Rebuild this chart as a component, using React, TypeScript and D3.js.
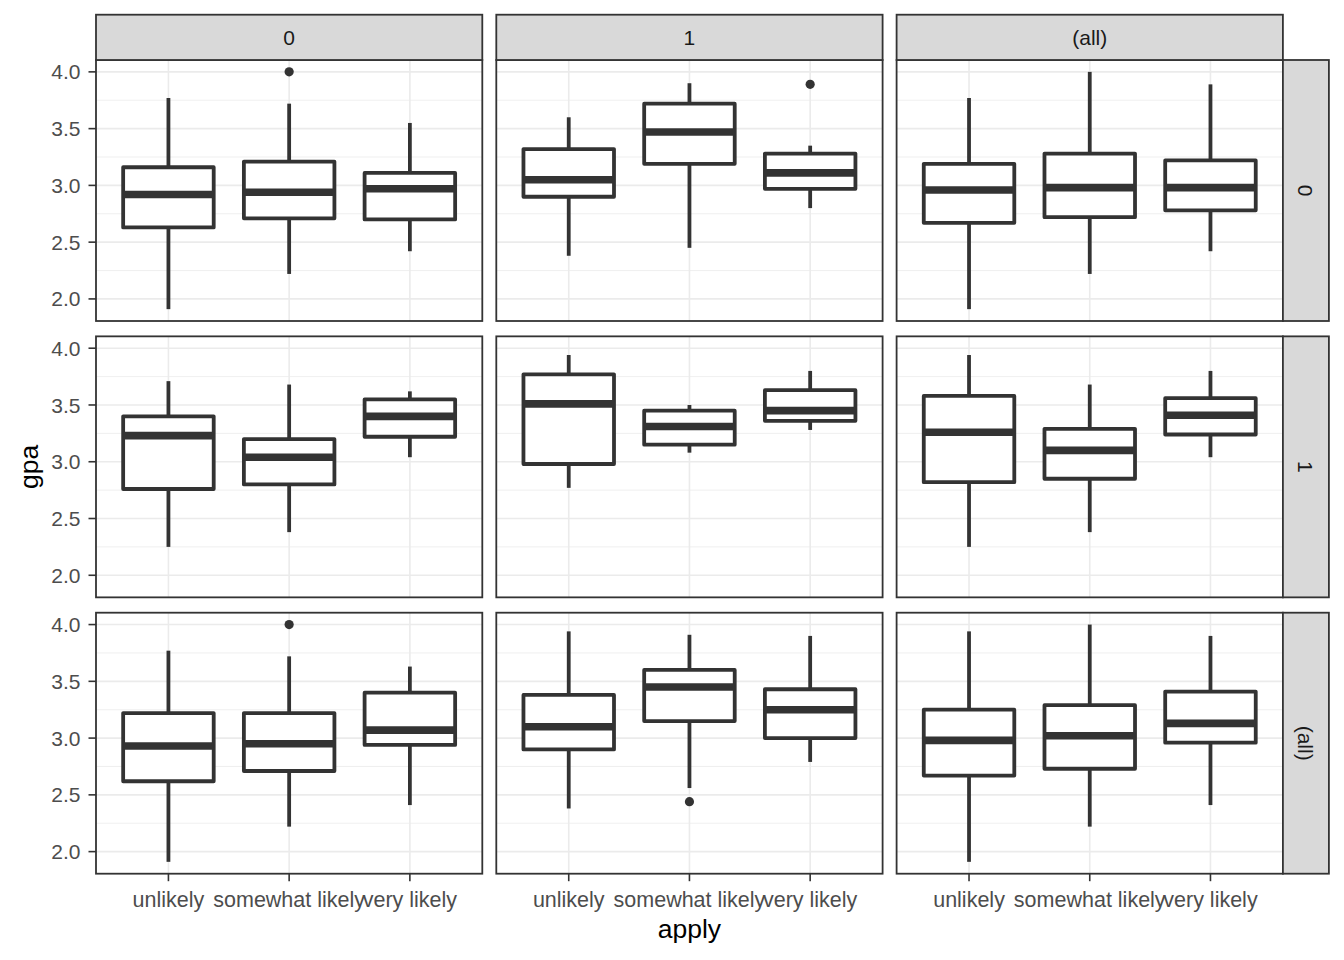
import * as d3 from 'd3';

const categories = ['unlikely', 'somewhat likely', 'very likely'];
const colLabels = ['0', '1', '(all)'];
const rowLabels = ['0', '1', '(all)'];
const yTicks = [2.0, 2.5, 3.0, 3.5, 4.0];
const yMinor = [2.25, 2.75, 3.25, 3.75];

// one entry per panel, row-major (rows = right strip, cols = top strip), 3 categories each
const whiskerLow = [
  [1.91, 2.22, 2.42], [2.38, 2.45, 2.8], [1.91, 2.22, 2.42],
  [2.25, 2.38, 3.04], [2.77, 3.08, 3.28], [2.25, 2.38, 3.04],
  [1.91, 2.22, 2.41], [2.38, 2.56, 2.79], [1.91, 2.22, 2.41],
];
const q1 = [
  [2.63, 2.71, 2.7], [2.9, 3.19, 2.97], [2.67, 2.72, 2.78],
  [2.76, 2.8, 3.22], [2.98, 3.15, 3.36], [2.82, 2.85, 3.24],
  [2.62, 2.71, 2.94], [2.9, 3.15, 3.0], [2.67, 2.73, 2.96],
];
const median = [
  [2.92, 2.94, 2.97], [3.05, 3.47, 3.11], [2.96, 2.98, 2.98],
  [3.23, 3.04, 3.4], [3.51, 3.31, 3.45], [3.26, 3.1, 3.41],
  [2.93, 2.95, 3.07], [3.1, 3.45, 3.25], [2.98, 3.02, 3.13],
];
const q3 = [
  [3.16, 3.21, 3.11], [3.32, 3.72, 3.28], [3.19, 3.28, 3.22],
  [3.4, 3.2, 3.55], [3.77, 3.45, 3.63], [3.58, 3.29, 3.56],
  [3.22, 3.22, 3.4], [3.38, 3.6, 3.43], [3.25, 3.29, 3.41],
];
const whiskerHigh = [
  [3.77, 3.72, 3.55], [3.6, 3.9, 3.35], [3.77, 4.0, 3.89],
  [3.71, 3.68, 3.62], [3.94, 3.5, 3.8], [3.94, 3.68, 3.8],
  [3.77, 3.72, 3.63], [3.94, 3.91, 3.9], [3.94, 4.0, 3.9],
];
// [panel, category, value]
const outliers: [number, number, number][] = [
  [0, 1, 4.0], [1, 2, 3.89], [6, 1, 4.0], [7, 1, 2.44],
];

const W = 1344;
const H = 960;
const left = 96;
const top = 60;
const panelW = 386.3;
const panelH = 261;
const stepX = 400.3;
const stepY = 276.35;
const stripH = 45.3;
const stripW = 46;
const font = '"Liberation Sans", Arial, Helvetica, sans-serif';
const dark = '#333333';
const boxStroke = 3.8;

export default function App() {
  const allVals = [...whiskerLow.flat(), ...whiskerHigh.flat(), ...outliers.map((o) => o[2])];
  const [lo, hi] = d3.extent(allVals) as [number, number];
  const pad = (hi - lo) * 0.05;
  const y = d3.scaleLinear().domain([lo - pad, hi + pad]).range([panelH, 0]);
  const x = d3.scalePoint<string>().domain(categories).range([0, panelW]).padding(0.6);
  const boxW = x.step() * 0.75;

  const panels = [];
  for (let r = 0; r < 3; r++) {
    for (let c = 0; c < 3; c++) {
      const p = r * 3 + c;
      const px = left + c * stepX;
      const py = top + r * stepY;
      panels.push(
        <g key={`p${p}`} transform={`translate(${px},${py})`}>
          <rect width={panelW} height={panelH} fill="white" />
          {yMinor.map((t) => (
            <line key={`mi${t}`} x1={0} x2={panelW} y1={y(t)} y2={y(t)} stroke="#ebebeb" strokeWidth={0.8} />
          ))}
          {yTicks.map((t) => (
            <line key={`ma${t}`} x1={0} x2={panelW} y1={y(t)} y2={y(t)} stroke="#ebebeb" strokeWidth={1.6} />
          ))}
          {categories.map((cat) => (
            <line key={`v${cat}`} x1={x(cat)} x2={x(cat)} y1={0} y2={panelH} stroke="#ebebeb" strokeWidth={1.6} />
          ))}
          {categories.map((cat, i) => {
            const cx = x(cat) as number;
            return (
              <g key={`b${cat}`} stroke={dark} fill="white">
                <line x1={cx} x2={cx} y1={y(whiskerHigh[p][i])} y2={y(q3[p][i])} strokeWidth={boxStroke} />
                <line x1={cx} x2={cx} y1={y(q1[p][i])} y2={y(whiskerLow[p][i])} strokeWidth={boxStroke} />
                <rect
                  x={cx - boxW / 2}
                  width={boxW}
                  y={y(q3[p][i])}
                  height={y(q1[p][i]) - y(q3[p][i])}
                  strokeWidth={boxStroke}
                  strokeLinejoin="round"
                />
                <line
                  x1={cx - boxW / 2}
                  x2={cx + boxW / 2}
                  y1={y(median[p][i])}
                  y2={y(median[p][i])}
                  strokeWidth={boxStroke * 2}
                />
              </g>
            );
          })}
          {outliers
            .filter((o) => o[0] === p)
            .map((o, k) => (
              <circle key={`o${k}`} cx={x(categories[o[1]])} cy={y(o[2])} r={4.6} fill={dark} />
            ))}
          <rect width={panelW} height={panelH} fill="none" stroke={dark} strokeWidth={1.8} />
        </g>
      );
    }
  }

  return (
    <div style={{ position: 'absolute', left: 0, top: 0 }}>
      <svg width={W} height={H} style={{ display: 'block', fontFamily: font }}>
        <rect width={W} height={H} fill="white" />
        {panels}
        {/* top strips */}
        {colLabels.map((lab, c) => (
          <g key={`ts${c}`} transform={`translate(${left + c * stepX},${top - stripH})`}>
            <rect width={panelW} height={stripH} fill="#d9d9d9" stroke={dark} strokeWidth={1.8} />
            <text x={panelW / 2} y={stripH / 2} dy="0.36em" textAnchor="middle" fontSize={21} fill="#1a1a1a">
              {lab}
            </text>
          </g>
        ))}
        {/* right strips */}
        {rowLabels.map((lab, r) => (
          <g key={`rs${r}`} transform={`translate(${left + 2 * stepX + panelW},${top + r * stepY})`}>
            <rect width={stripW} height={panelH} fill="#d9d9d9" stroke={dark} strokeWidth={1.8} />
            <text
              transform={`translate(${stripW / 2},${panelH / 2}) rotate(90)`}
              dy="0.36em"
              textAnchor="middle"
              fontSize={21}
              fill="#1a1a1a"
            >
              {lab}
            </text>
          </g>
        ))}
        {/* y axes */}
        {rowLabels.map((_, r) => (
          <g key={`ya${r}`} transform={`translate(${left},${top + r * stepY})`}>
            {yTicks.map((t) => (
              <g key={t}>
                <line x1={-7.5} x2={0} y1={y(t)} y2={y(t)} stroke={dark} strokeWidth={1.6} />
                <text x={-15.5} y={y(t)} dy="0.36em" textAnchor="end" fontSize={21} fill="#4d4d4d">
                  {d3.format('.1f')(t)}
                </text>
              </g>
            ))}
          </g>
        ))}
        {/* x axes */}
        {colLabels.map((_, c) => (
          <g key={`xa${c}`} transform={`translate(${left + c * stepX},${top + 2 * stepY + panelH})`}>
            {categories.map((cat) => (
              <g key={cat}>
                <line x1={x(cat)} x2={x(cat)} y1={0} y2={7.5} stroke={dark} strokeWidth={1.6} />
                <text x={x(cat)} y={33} textAnchor="middle" fontSize={21.5} fill="#4d4d4d">
                  {cat}
                </text>
              </g>
            ))}
          </g>
        ))}
        <text x={left + (2 * stepX + panelW) / 2} y={938} textAnchor="middle" fontSize={26.5} fill="black">
          apply
        </text>
        <text
          transform={`translate(38,${top + (2 * stepY + panelH) / 2}) rotate(-90)`}
          textAnchor="middle"
          fontSize={26.5}
          fill="black"
        >
          gpa
        </text>
      </svg>
    </div>
  );
}
